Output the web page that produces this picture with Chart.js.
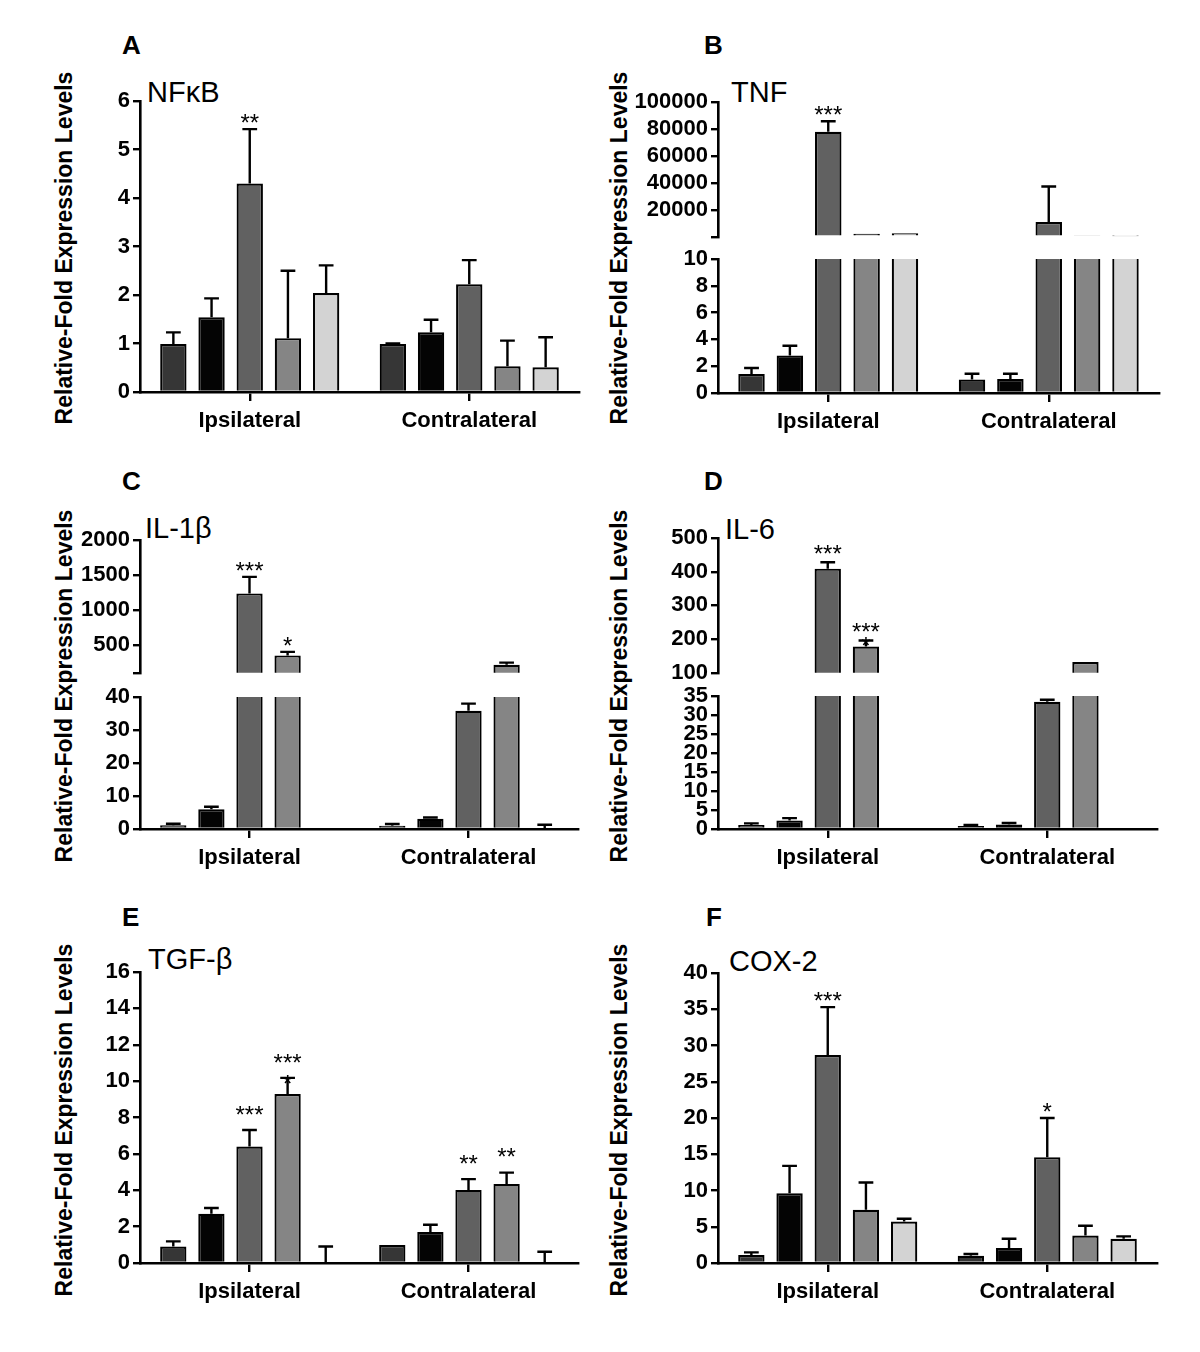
<!doctype html>
<html lang="en">
<head>
<meta charset="utf-8">
<title>Relative-fold expression levels</title>
<script src="https://cdn.jsdelivr.net/npm/chart.js"></script>
<style>
  body { margin: 0; background: #fff; font-family: "Liberation Sans", Arial, sans-serif; }
  #fig { position: relative; width: 1200px; height: 1352px; background: #fff; }
  #fig canvas { position: absolute; }
  .letter { position: absolute; font-weight: bold; font-size: 26px; line-height: 1; }
  .gene { position: absolute; font-size: 29px; line-height: 1; }
  .ytitle { position: absolute; font-weight: bold; font-size: 23px; line-height: 1; white-space: nowrap;
            transform: translate(-50%, -50%) rotate(-90deg); }
</style>
</head>
<body>
<div id="fig">
  <div class="letter" style="left:122px;top:32px">A</div>
  <div class="letter" style="left:704px;top:32px">B</div>
  <div class="letter" style="left:122px;top:468px">C</div>
  <div class="letter" style="left:704px;top:468px">D</div>
  <div class="letter" style="left:122px;top:904px">E</div>
  <div class="letter" style="left:706px;top:904px">F</div>

  <div class="gene" style="left:147px;top:78px">NFκB</div>
  <div class="gene" style="left:731px;top:78px">TNF</div>
  <div class="gene" style="left:145px;top:514px">IL-1β</div>
  <div class="gene" style="left:725px;top:515px">IL-6</div>
  <div class="gene" style="left:148px;top:945px">TGF-β</div>
  <div class="gene" style="left:729px;top:947px">COX-2</div>

  <div class="ytitle" style="left:64px;top:248px">Relative-Fold Expression Levels</div>
  <div class="ytitle" style="left:619px;top:248px">Relative-Fold Expression Levels</div>
  <div class="ytitle" style="left:64px;top:686px">Relative-Fold Expression Levels</div>
  <div class="ytitle" style="left:619px;top:686px">Relative-Fold Expression Levels</div>
  <div class="ytitle" style="left:64px;top:1120px">Relative-Fold Expression Levels</div>
  <div class="ytitle" style="left:619px;top:1120px">Relative-Fold Expression Levels</div>
</div>

<script>
const FONT = '"Liberation Sans", Arial, sans-serif';
Chart.defaults.font.family = FONT;

const groups = ['Ipsilateral', 'Contralateral'];
const seriesColors = ['#363636', '#040404', '#616161', '#858585', '#d3d3d3'];

// one row per bar series: [Ipsilateral, Contralateral]; err = top of the error bar
const nfkbMean = [[0.99, 0.99], [1.54, 1.23], [4.30, 2.22], [1.11, 0.53], [2.04, 0.51]];
const nfkbErr = [[1.23, 1.00], [1.93, 1.49], [5.42, 2.72], [2.50, 1.06], [2.61, 1.13]];
const nfkbStars = [['', ''], ['', ''], ['**', ''], ['', ''], ['', '']];
const nfkbTicks = [0, 1, 2, 3, 4, 5, 6];

const tnfMean = [[1.42, 1.00], [2.79, 1.04], [77900, 11000], [2200, 1200], [2700, 400]];
const tnfErr = [[1.87, 1.44], [3.53, 1.44], [85700, 37300], [null, null], [null, null]];
const tnfStars = [['', ''], ['', ''], ['***', ''], ['', ''], ['', '']];
const tnfLowTicks = [0, 2, 4, 6, 8, 10];
const tnfHighFloor = 0;
const tnfHighTicks = [20000, 40000, 60000, 80000, 100000];

const il1bMean = [[1.1, 1.0], [5.95, 3.1], [1236, 35.8], [349, 216], [null, 0]];
const il1bErr = [[1.6, 1.5], [6.75, 3.5], [1472, 38.0], [400, 245], [null, 1.3]];
const il1bStars = [['', ''], ['', ''], ['***', ''], ['*', ''], ['', '']];
const il1bLowTicks = [0, 10, 20, 30, 40];
const il1bHighFloor = 100;
const il1bHighTicks = [500, 1000, 1500, 2000];

const il6Mean = [[1.04, 0.78], [2.26, 1.2], [409, 33.5], [178, 132], [null, null]];
const il6Err = [[1.48, 1.04], [2.86, 1.56], [428, 34.0], [196, null], [null, null]];
const il6Stars = [['', ''], ['', ''], ['***', ''], ['***\n*', ''], ['', '']];
const il6LowTicks = [0, 5, 10, 15, 20, 25, 30, 35];
const il6HighFloor = 100;
const il6HighTicks = [100, 200, 300, 400, 500];

const tgfbMean = [[0.91, 0.99], [2.71, 1.70], [6.40, 4.02], [9.29, 4.35], [0, 0]];
const tgfbErr = [[1.19, null], [3.02, 2.10], [7.31, 4.61], [10.18, 4.97], [0.91, 0.62]];
const tgfbStars = [['', ''], ['', ''], ['***', '**'], ['***\n*', '**'], ['', '']];
const tgfbTicks = [0, 2, 4, 6, 8, 10, 12, 14, 16];

const cox2Mean = [[1.1, 1.0], [9.63, 2.06], [28.7, 14.6], [7.34, 3.8], [5.73, 3.35]];
const cox2Err = [[1.47, 1.24], [13.4, 3.35], [35.3, 20.0], [11.1, 5.14], [6.1, 3.67]];
const cox2Stars = [['', ''], ['', ''], ['***', '*'], ['', ''], ['', '']];
const cox2Ticks = [0, 5, 10, 15, 20, 25, 30, 35, 40];

const fig = document.getElementById('fig');

const errorBars = {
  id: 'errorBars',
  afterDatasetsDraw(chart) {
    const {ctx, chartArea: a} = chart;
    const y = chart.scales.y;
    ctx.save();
    ctx.beginPath();
    ctx.rect(a.left, a.top - 1, a.right - a.left, a.bottom - a.top + 1);
    ctx.clip();
    ctx.strokeStyle = '#000';
    ctx.lineWidth = 2.4;
    chart.data.datasets.forEach((ds, i) => {
      chart.getDatasetMeta(i).data.forEach((bar, j) => {
        const e = ds.errHi[j];
        if (ds.data[j] == null || e == null) return;
        const ye = y.getPixelForValue(e);
        const half = bar.width * 0.28;
        ctx.beginPath();
        ctx.moveTo(bar.x, bar.y);
        ctx.lineTo(bar.x, ye);
        ctx.moveTo(bar.x - half, ye);
        ctx.lineTo(bar.x + half, ye);
        ctx.stroke();
      });
    });
    ctx.restore();
  }
};

const starMarks = {
  id: 'starMarks',
  afterDatasetsDraw(chart, args, opts) {
    const ctx = chart.ctx;
    const y = chart.scales.y;
    const fs = 24;
    ctx.save();
    ctx.fillStyle = '#000';
    ctx.font = fs + 'px ' + FONT;
    ctx.textAlign = 'center';
    ctx.textBaseline = 'alphabetic';
    chart.data.datasets.forEach((ds, i) => {
      chart.getDatasetMeta(i).data.forEach((bar, j) => {
        const s = ds.stars[j];
        const v = ds.data[j];
        if (!s || v == null || v > y.max) return;
        const e = ds.errHi[j];
        const capY = e == null ? bar.y : y.getPixelForValue(e);
        const shift = 0.575 * fs;
        const lines = s.split('\n');
        if (lines.length > 1) ctx.fillText(lines[1], bar.x, capY + shift);
        ctx.fillText(lines[0], bar.x, capY - opts.gap + shift);
      });
    });
    ctx.restore();
  }
};

function drawSegment(seg) {
  const cx = seg.left < 600 ? 0 : 600;
  const cy = seg.top - 20;
  const xh = seg.showX ? 46 : 0;
  const padB = 16;
  const ch = seg.bottom - cy + xh + padB;
  const canvas = document.createElement('canvas');
  canvas.width = 600;
  canvas.height = ch;
  canvas.style.left = cx + 'px';
  canvas.style.top = cy + 'px';
  fig.appendChild(canvas);

  const datasets = seg.mean.map((row, i) => ({
    data: row.map(v => seg.keep(v) ? v : null),
    errHi: seg.err[i],
    stars: seg.stars[i],
    backgroundColor: seriesColors[i],
    borderColor: '#000',
    borderWidth: 2.2,
    clip: 0,
    barPercentage: 0.69,
    categoryPercentage: 0.87
  }));

  const tickFont = {family: FONT, size: 22, weight: 'bold'};
  new Chart(canvas, {
    type: 'bar',
    data: {labels: groups, datasets},
    options: {
      responsive: false,
      animation: false,
      devicePixelRatio: 1,
      layout: {padding: {left: 0, top: 20, right: cx + 600 - seg.right, bottom: padB}},
      plugins: {
        legend: {display: false},
        tooltip: {enabled: false},
        starMarks: {gap: seg.starGap}
      },
      scales: {
        x: {
          display: seg.showX,
          grid: {offset: false, drawOnChartArea: false, tickLength: 9, color: '#000', lineWidth: 2.4},
          border: {color: '#000', width: 2.6},
          ticks: {color: '#000', font: {family: FONT, size: 22, weight: 'bold'}, padding: 7},
          afterFit: s => { s.height = xh; }
        },
        y: {
          min: seg.min,
          max: seg.max,
          afterBuildTicks: s => { s.ticks = seg.ticks.map(v => ({value: v})); },
          ticks: {
            autoSkip: false,
            color: '#000',
            font: tickFont,
            padding: 3,
            callback: v => seg.labeled.includes(v) ? String(v) : ''
          },
          grid: {drawOnChartArea: false, tickLength: 7, color: '#000', lineWidth: 2.4},
          border: {color: '#000', width: 2.6},
          afterFit: s => { s.width = seg.left - cx; }
        }
      }
    },
    plugins: [errorBars, starMarks]
  });
}

// plain panel: one value axis
function simplePanel(g, mean, err, stars, ticks) {
  drawSegment({
    left: g.left, right: g.right, top: g.top, bottom: g.bottom,
    min: ticks[0], max: ticks[ticks.length - 1], ticks, labeled: ticks,
    showX: true, mean, err, stars, starGap: g.starGap, keep: v => v != null
  });
}

// broken value axis: upper part for large values, lower part from zero
function brokenPanel(g, mean, err, stars, lowTicks, highFloor, highTicks) {
  const lowMax = lowTicks[lowTicks.length - 1];
  const hiTicks = highTicks.includes(highFloor) ? highTicks : [highFloor].concat(highTicks);
  drawSegment({
    left: g.left, right: g.right, top: g.hiTop, bottom: g.hiBottom,
    min: highFloor, max: highTicks[highTicks.length - 1], ticks: hiTicks, labeled: highTicks,
    showX: false, mean, err, stars, starGap: g.starGap, keep: v => v != null && v > lowMax
  });
  drawSegment({
    left: g.left, right: g.right, top: g.loTop, bottom: g.loBottom,
    min: lowTicks[0], max: lowMax, ticks: lowTicks, labeled: lowTicks,
    showX: true, mean, err, stars, starGap: g.starGap, keep: v => v != null
  });
}

simplePanel({left: 140, right: 579, top: 101, bottom: 392, starGap: 12},
  nfkbMean, nfkbErr, nfkbStars, nfkbTicks);
brokenPanel({left: 718, right: 1159, hiTop: 102, hiBottom: 237, loTop: 259, loBottom: 393, starGap: 12},
  tnfMean, tnfErr, tnfStars, tnfLowTicks, tnfHighFloor, tnfHighTicks);
brokenPanel({left: 140, right: 578, hiTop: 540, hiBottom: 673, loTop: 697, loBottom: 829, starGap: 12},
  il1bMean, il1bErr, il1bStars, il1bLowTicks, il1bHighFloor, il1bHighTicks);
brokenPanel({left: 718, right: 1157, hiTop: 538, hiBottom: 673, loTop: 696, loBottom: 829, starGap: 14},
  il6Mean, il6Err, il6Stars, il6LowTicks, il6HighFloor, il6HighTicks);
simplePanel({left: 140, right: 578, top: 972, bottom: 1263, starGap: 21},
  tgfbMean, tgfbErr, tgfbStars, tgfbTicks);
simplePanel({left: 718, right: 1157, top: 973, bottom: 1263, starGap: 12},
  cox2Mean, cox2Err, cox2Stars, cox2Ticks);
</script>
</body>
</html>
